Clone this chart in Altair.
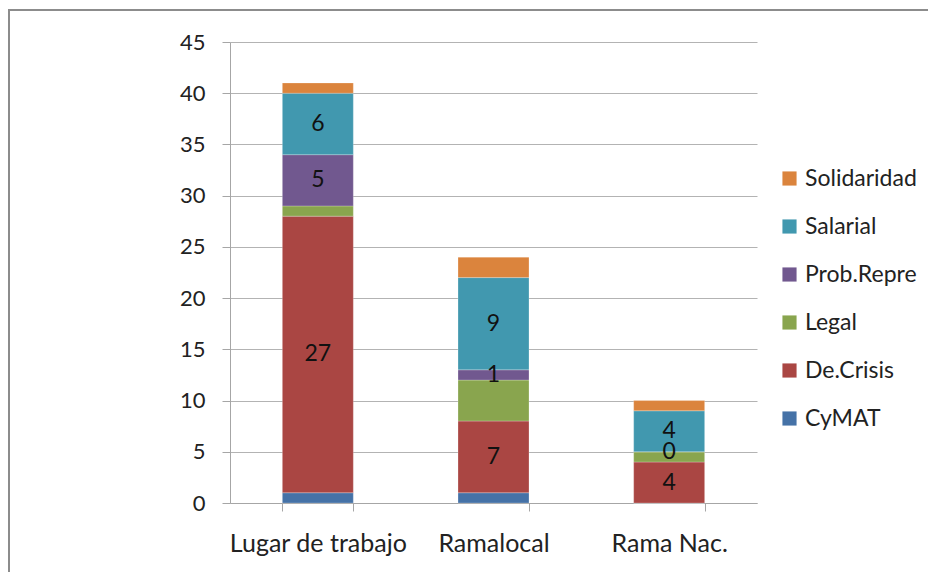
import altair as alt
import pandas as pd

categories = ["Lugar de trabajo", "Ramalocal", "Rama Nac."]
series = ["CyMAT", "De.Crisis", "Legal", "Prob.Repre", "Salarial", "Solidaridad"]
values = {
    "CyMAT": [1, 1, 0],
    "De.Crisis": [27, 7, 4],
    "Legal": [1, 4, 1],
    "Prob.Repre": [5, 1, 0],
    "Salarial": [6, 9, 4],
    "Solidaridad": [1, 2, 1],
}
labelled = ["De.Crisis", "Prob.Repre", "Salarial"]
colors = ["#4572A7", "#AA4643", "#89A54E", "#71588F", "#4198AF", "#DB843D"]

rows = []
for si, s in enumerate(series):
    for ci, c in enumerate(categories):
        rows.append({"cat": c, "series": s, "val": values[s][ci], "ord": si,
                     "lab": s in labelled})
df = pd.DataFrame(rows)

FONT = "Lato"
legend_order = list(reversed(series))
legend_colors = list(reversed(colors))

x_enc = alt.X("cat:N", sort=categories, title=None,
              scale=alt.Scale(paddingInner=0.596, paddingOuter=0.298),
              axis=alt.Axis(labelAngle=0, labelFontSize=25, labelFont=FONT,
                            labelColor="#222", domainColor="#a6a6a6",
                            tickColor="#a6a6a6", tickSize=8, tickBand="extent",
                            labelPadding=20, grid=False))

base = alt.Chart(df).transform_stack(
    stack="val", groupby=["cat"], as_=["y0", "y1"],
    sort=[alt.SortField("ord", order="ascending")]
).transform_calculate(mid="(datum.y0 + datum.y1) / 2")

bars = base.mark_bar(stroke="#ffffff", strokeWidth=0.4, strokeOpacity=0.6).encode(
    x=x_enc,
    y=alt.Y("y0:Q", title=None,
            scale=alt.Scale(domain=[0, 45], nice=False),
            axis=alt.Axis(values=list(range(0, 46, 5)), labelFontSize=22,
                          labelFont=FONT, labelColor="#222",
                          domainColor="#a6a6a6", tickColor="#a6a6a6",
                          tickSize=8, labelPadding=17, gridColor="#b3b3b3",
                          gridWidth=1)),
    y2="y1:Q",
    color=alt.Color("series:N",
                    scale=alt.Scale(domain=legend_order, range=legend_colors),
                    legend=alt.Legend(title=None, orient="none", legendX=548,
                                      legendY=125, symbolType="square",
                                      symbolSize=200, symbolStrokeWidth=0,
                                      labelFontSize=23, labelFont=FONT,
                                      labelColor="#222", rowPadding=24,
                                      labelOffset=4)),
)

texts = base.transform_filter("datum.lab").mark_text(
    fontSize=23, font=FONT, color="#111", baseline="middle").encode(
    x=alt.X("cat:N", sort=categories),
    y=alt.Y("mid:Q"),
    text=alt.Text("val:Q"),
)

border = alt.Chart(pd.DataFrame({"a": [0]})).mark_rect(
    fill=None, stroke="#8c8c8c", strokeWidth=2).encode(
    x=alt.value(-221), x2=alt.value(720),
    y=alt.value(-32), y2=alt.value(560))

chart = alt.layer(bars, texts, border).properties(
    width=527, height=461,
    autosize=alt.AutoSizeParams(type="none"),
    padding={"left": 222, "top": 34, "right": 171, "bottom": 69},
    background="white",
).configure_view(stroke=None)

chart.save("out.html", embed_options={"renderer": "svg", "actions": False})
